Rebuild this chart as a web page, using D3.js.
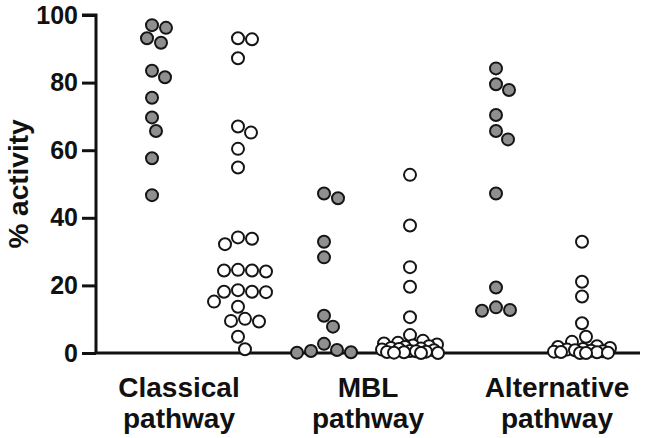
<!DOCTYPE html>
<html>
<head>
<meta charset="utf-8">
<script src="https://cdn.jsdelivr.net/npm/d3@7"></script>
<style>
body { margin: 0; background: #fff; }
text { font-family: "Liberation Sans", Arial, Helvetica, sans-serif; font-weight: bold; fill: #111; }
</style>
</head>
<body>
<div id="chart"></div>
<script>
var svgWidth = 645;
var svgHeight = 438;

// categories and the two columns in each
var categories = ["Classical pathway", "MBL pathway", "Alternative pathway"];
var columns = ["classical_a", "classical_b", "mbl_a", "mbl_b", "alt_a", "alt_b"];
var yTicks = [0, 20, 40, 60, 80, 100];

// % activity values
var classicalA = [97.0, 96.2, 93.1, 91.8, 83.5, 81.6, 75.5, 69.7, 65.7, 57.6, 46.7];
var classicalB = [93.1, 92.8, 87.2, 67.0, 65.2, 60.4, 54.9, 34.2, 33.8, 32.2, 24.6, 24.4, 24.4, 24.1,
                  18.6, 18.1, 18.1, 18.0, 15.2, 13.7, 10.1, 9.5, 9.3, 4.8, 1.1];
var mblA = [47.2, 45.8, 32.9, 28.3, 11.0, 7.8, 2.7, 0.9, 0.6, 0.2, 0.1];
var mblB = [52.7, 37.7, 25.4, 19.6, 10.6, 5.3, 3.6, 3.0, 2.8, 2.5, 2.2, 2.0, 1.8, 1.5, 1.3, 1.2,
            1.0, 0.8, 0.6, 0.5, 0.4, 0.3, 0.2, 0.1, 0.0, 0.0];
var altA = [84.2, 79.5, 77.8, 70.4, 65.7, 63.2, 47.2, 19.4, 13.5, 12.7, 12.5];
var altB = [32.9, 21.1, 16.7, 8.8, 4.8, 3.3, 2.0, 1.8, 1.5, 1.2, 1.0, 0.8, 0.7, 0.5, 0.4, 0.3,
            0.2, 0.1, 0.0, 0.0];

var seriesValues = [classicalA, classicalB, mblA, mblB, altA, altB];
var seriesFill = ["#8f8f8f", "#ffffff", "#8f8f8f", "#ffffff", "#8f8f8f", "#ffffff"];

var margin = {top: 15, left: 96, right: 5, bottom: 85};
var height = svgHeight - margin.top - margin.bottom;

var svg = d3.select("#chart").append("svg").attr("width", svgWidth).attr("height", svgHeight);

var yScale = d3.scaleLinear().domain([0, 100]).range([margin.top + height, margin.top]);
var xScale = d3.scalePoint().domain(columns).range([152, 582]);
var catScale = d3.scalePoint().domain(categories).range([179, 557]);

var r = 6;
var dia = 2 * r + 2;
var maxSpread = 28;

// simple beeswarm: place each point at the nearest free horizontal offset
function swarm(values) {
    var placed = [];
    var sorted = values.slice().sort(function(a, b) { return b - a; });
    var candidates = [0];
    for (var k = 1; k <= maxSpread; k++) { candidates.push(k, -k); }
    sorted.forEach(function(v) {
        var y = yScale(v);
        var best = null, bestScore = -1;
        for (var i = 0; i < candidates.length; i++) {
            var dx = candidates[i];
            var minD = Infinity;
            placed.forEach(function(p) {
                var d = Math.hypot(p.dx - dx, p.y - y);
                if (d < minD) minD = d;
            });
            if (minD >= dia) { best = dx; break; }
            if (minD > bestScore) { bestScore = minD; best = dx; }
        }
        placed.push({value: v, dx: best, y: y});
    });
    return placed;
}

// axes
var leftAxis = d3.axisLeft(yScale).tickValues(yTicks).tickSize(14).tickPadding(4);
var yAxis = svg.append("g").attr("transform", `translate(${margin.left},0)`).call(leftAxis);
yAxis.select(".domain").attr("stroke", "#111").attr("stroke-width", 3)
    .attr("d", `M-14,${yScale(100)}H0V${yScale(0)}`);
yAxis.selectAll(".tick line").attr("stroke", "#111").attr("stroke-width", 3);
yAxis.selectAll(".tick text").attr("font-size", "25px").attr("fill", "#111")
    .style("font-family", "'Liberation Sans', Arial, sans-serif").style("font-weight", "bold");

svg.append("line").attr("x1", margin.left - 1.5).attr("x2", svgWidth - margin.right)
    .attr("y1", yScale(0)).attr("y2", yScale(0)).attr("stroke", "#111").attr("stroke-width", 3);

svg.append("text").attr("transform", `translate(28,${yScale(50)}) rotate(-90)`)
    .attr("text-anchor", "middle").attr("font-size", "28px").text("% activity");

// category labels (two lines)
var catGroup = svg.append("g");
categories.forEach(function(c) {
    var words = c.split(" ");
    catGroup.append("text").attr("x", catScale(c)).attr("y", 397).attr("text-anchor", "middle")
        .attr("font-size", "28px").text(words[0]);
    catGroup.append("text").attr("x", catScale(c)).attr("y", 428).attr("text-anchor", "middle")
        .attr("font-size", "28px").text(words[1]);
});

// points
columns.forEach(function(col, i) {
    var pts = swarm(seriesValues[i]);
    svg.append("g").selectAll("circle").data(pts).enter().append("circle")
        .attr("cx", d => xScale(col) + d.dx)
        .attr("cy", d => d.y)
        .attr("r", r)
        .attr("fill", seriesFill[i])
        .attr("stroke", "#151515")
        .attr("stroke-width", 2);
});
</script>
</body>
</html>
